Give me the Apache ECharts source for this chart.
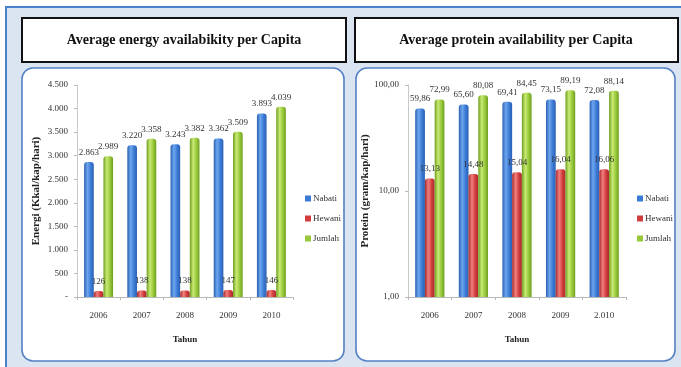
<!DOCTYPE html>
<html>
<head>
<meta charset="utf-8">
<script src="https://cdn.jsdelivr.net/npm/echarts@6/dist/echarts.min.js"></script>
<style>
  html, body { margin: 0; padding: 0; background: #ffffff; }
  #chart { width: 681px; height: 367px; }
</style>
</head>
<body>
<div id="chart"></div>
<script>
// Energy availability per capita (Kkal/kap/hari)
const energyYears = ['2006', '2007', '2008', '2009', '2010'];
const energyNabati = [2863, 3220, 3243, 3362, 3893];
const energyHewani = [126, 138, 138, 147, 146];
const energyJumlah = [2989, 3358, 3382, 3509, 4039];
const energyTicks = [0, 500, 1000, 1500, 2000, 2500, 3000, 3500, 4000, 4500];

// Protein availability per capita (gram/kap/hari)
const proteinYears = ['2006', '2007', '2008', '2009', '2.010'];
const proteinNabati = [59.86, 65.60, 69.41, 73.15, 72.08];
const proteinHewani = [13.13, 14.48, 15.04, 16.04, 16.06];
const proteinJumlah = [72.99, 80.08, 84.45, 89.19, 88.14];
const proteinTicks = [1, 10, 100];

const seriesNames = ['Nabati', 'Hewani', 'Jumlah'];

const SERIF = '"Liberation Serif", "DejaVu Serif", serif';

function thousands(v) {
  if (v === 0) return '-';
  return String(Math.round(v)).replace(/\B(?=(\d{3})+(?!\d))/g, '.');
}
function comma2(v) {
  return Number(v).toFixed(2).replace('.', ',');
}

// cylinder-like horizontal shading for the bars
function cyl(dark, light, mid) {
  return new echarts.graphic.LinearGradient(0, 0, 1, 0, [
    { offset: 0, color: dark },
    { offset: 0.35, color: light },
    { offset: 0.7, color: mid },
    { offset: 1, color: dark }
  ]);
}
const palette = {
  Nabati: { fill: cyl('#2a60b4', '#6ea6ee', '#3b7ad4'), solid: '#3b7ad4' },
  Hewani: { fill: cyl('#a82a2a', '#f07f7f', '#d13c3c'), solid: '#d13c3c' },
  Jumlah: { fill: cyl('#6f9e1f', '#c8ea74', '#97c83a'), solid: '#97c83a' }
};

const chart = echarts.init(document.getElementById('chart'), null, { renderer: 'canvas' });

function makeSeries(name, data, idx, fmt) {
  return {
    name: name,
    type: 'bar',
    xAxisIndex: idx,
    yAxisIndex: idx,
    data: data,
    barGap: '0%',
    barCategoryGap: '33%',
    itemStyle: { color: palette[name].fill, borderRadius: [3, 3, 0, 0] },
    label: {
      show: true,
      position: 'top',
      distance: 5,
      fontFamily: SERIF,
      fontSize: 9,
      color: '#333',
      formatter: p => fmt(p.value)
    },
    emphasis: { disabled: true }
  };
}

const legendData = seriesNames.map(n => ({ name: n, itemStyle: { color: palette[n].solid } }));
const legendBase = {
  orient: 'vertical',
  data: legendData,
  icon: 'rect',
  itemWidth: 6,
  itemHeight: 6,
  itemGap: 11,
  textStyle: { fontFamily: SERIF, fontSize: 9, color: '#333', padding: [0, 0, 0, -3] },
  selectedMode: false
};

const axisLabelStyle = { fontFamily: SERIF, fontSize: 9, color: '#333' };
const xNameStyle = { fontFamily: SERIF, fontSize: 9, fontWeight: 'bold', color: '#222' };
const yNameStyle = { fontFamily: SERIF, fontSize: 11, fontWeight: 'bold', color: '#222' };
const axisLineStyle = { lineStyle: { color: '#b8b8b8', width: 1 } };

chart.setOption({
  animation: false,
  backgroundColor: '#ffffff',
  graphic: [
    // outer light blue frame
    { type: 'rect', shape: { x: 6, y: 7, width: 690, height: 380 },
      style: { fill: '#dbe5f1', stroke: '#4a80cc', lineWidth: 2 }, z: -10 },
    // title boxes
    { type: 'rect', shape: { x: 22, y: 18, width: 324, height: 44 },
      style: { fill: '#ffffff', stroke: '#111111', lineWidth: 2 }, z: -5 },
    { type: 'rect', shape: { x: 355, y: 18, width: 323, height: 44 },
      style: { fill: '#ffffff', stroke: '#111111', lineWidth: 2 }, z: -5 },
    { type: 'text', x: 184, y: 40, z: 5,
      style: { text: 'Average energy availabikity per Capita', textAlign: 'center', textVerticalAlign: 'middle',
               font: 'bold 14px "Liberation Serif", serif', fill: '#111' } },
    { type: 'text', x: 516, y: 40, z: 5,
      style: { text: 'Average protein availability per Capita', textAlign: 'center', textVerticalAlign: 'middle',
               font: 'bold 14px "Liberation Serif", serif', fill: '#111' } },
    // chart panels
    { type: 'rect', shape: { x: 22, y: 68, width: 322, height: 293, r: 11 },
      style: { fill: '#ffffff', stroke: '#5481c4', lineWidth: 1.6 }, z: -5 },
    { type: 'rect', shape: { x: 356, y: 68, width: 319, height: 293, r: 11 },
      style: { fill: '#ffffff', stroke: '#5481c4', lineWidth: 1.6 }, z: -5 }
  ],
  legend: [
    Object.assign({ left: 300, top: 189 }, legendBase),
    Object.assign({ left: 632, top: 189 }, legendBase)
  ],
  grid: [
    { left: 77, top: 85, width: 216, height: 212 },
    { left: 408, top: 85, width: 218, height: 212 }
  ],
  xAxis: [
    { type: 'category', gridIndex: 0, data: energyYears,
      name: 'Tahun', nameLocation: 'middle', nameGap: 38, nameTextStyle: xNameStyle,
      axisLine: axisLineStyle, axisTick: { show: true, length: 3, lineStyle: { color: '#b8b8b8' } },
      axisLabel: Object.assign({ margin: 14 }, axisLabelStyle) },
    { type: 'category', gridIndex: 1, data: proteinYears,
      name: 'Tahun', nameLocation: 'middle', nameGap: 38, nameTextStyle: xNameStyle,
      axisLine: axisLineStyle, axisTick: { show: true, length: 3, lineStyle: { color: '#b8b8b8' } },
      axisLabel: Object.assign({ margin: 14 }, axisLabelStyle) }
  ],
  yAxis: [
    { type: 'value', gridIndex: 0, min: energyTicks[0], max: energyTicks[energyTicks.length - 1], interval: 500,
      name: 'Energi (Kkal/kap/hari)', nameLocation: 'middle', nameGap: 35, nameRotate: 90,
      nameTextStyle: yNameStyle,
      axisLine: { show: true, lineStyle: { color: '#c8c8c8' } },
      axisTick: { show: true, length: 3, lineStyle: { color: '#b8b8b8' } },
      splitLine: { show: false },
      axisLabel: Object.assign({ margin: 9, formatter: v => thousands(v) }, axisLabelStyle) },
    { type: 'log', gridIndex: 1, logBase: 10, min: proteinTicks[0], max: proteinTicks[proteinTicks.length - 1],
      name: 'Protein (gram/kap/hari)', nameLocation: 'middle', nameGap: 31, nameRotate: 90,
      nameTextStyle: yNameStyle,
      axisLine: { show: true, lineStyle: { color: '#c8c8c8' } },
      axisTick: { show: true, length: 3, lineStyle: { color: '#b8b8b8' } },
      splitLine: { show: false },
      axisLabel: Object.assign({ margin: 9, formatter: v => comma2(v) }, axisLabelStyle) }
  ],
  series: [
    makeSeries('Nabati', energyNabati, 0, thousands),
    makeSeries('Hewani', energyHewani, 0, thousands),
    makeSeries('Jumlah', energyJumlah, 0, thousands),
    makeSeries('Nabati', proteinNabati, 1, comma2),
    makeSeries('Hewani', proteinHewani, 1, comma2),
    makeSeries('Jumlah', proteinJumlah, 1, comma2)
  ]
});
</script>
</body>
</html>
